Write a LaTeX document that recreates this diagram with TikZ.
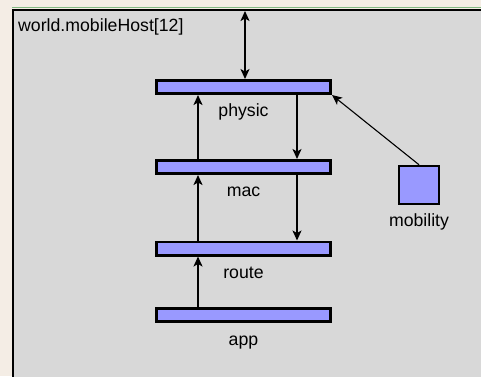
\documentclass[tikz,border=0pt]{standalone}
\usepackage{fontspec}
\setmainfont{Liberation Sans}
\usetikzlibrary{arrows.meta,positioning}

\definecolor{panelgray}{RGB}{216,216,216}
\definecolor{modblue}{RGB}{153,153,255}
\definecolor{paper}{RGB}{244,237,229}
\definecolor{rimgreen}{RGB}{130,185,130}

\begin{document}
\begin{tikzpicture}[x=1pt, y=-1pt, >={Stealth[length=10pt,width=9pt,inset=2.5pt]}]
        \tikzset{
            layer/.style={rectangle,draw,line width=2.7pt,fill=modblue,
                minimum width=174.3pt, minimum height=13.3pt, inner sep=0pt},
            module/.style={rectangle,draw,line width=2.7pt,fill=modblue,
                minimum width=39.8pt, minimum height=37.8pt, inner sep=0pt},
            txt/.style={inner sep=0pt, font=\fontsize{17.7}{20}\selectfont},
            gate/.style={->, line width=1.4pt}
        }

        \useasboundingbox (0,0) rectangle (481,376);
        \clip (0,0) rectangle (481,376);
        \fill[paper] (0,0) rectangle (481,376);
        \draw[rimgreen, line width=1.2pt] (12,7.5) -- (481,7.5);
        \draw[line width=2.7pt, fill=panelgray] (13,10) rectangle (500,400);

        \node[txt, anchor=base west] (title) at (18,31) {world.mobileHost[12]};

        % protocol stack
        \node[layer] (physic) at (243.5,87) {};
        \node[layer] (mac)    at (243.5,167) {};
        \node[layer] (route)  at (243.5,248.5) {};
        \node[layer] (app)    at (243.5,315) {};
        \node[module] (mobility) at (419,185) {};

        \node[txt, below=21.5pt of physic.south, anchor=base] (physiclbl) {physic};
        \node[txt, below=21.5pt of mac.south, anchor=base] (maclbl) {mac};
        \node[txt, below=21.5pt of route.south, anchor=base] (routelbl) {route};
        \node[txt, below=22pt of app.south, anchor=base] (applbl) {app};
        \node[txt, below=21pt of mobility.south, anchor=base] (mobilitylbl) {mobility};

        \coordinate (up)   at (198,0);
        \coordinate (down) at (297,0);
        \coordinate (gate) at (245,11);

        \draw[gate,<->] (gate) -- (gate |- physic.north);
        \draw[gate] (mac.north -| up) -- (physic.south -| up);
        \draw[gate] (route.north -| up) -- (mac.south -| up);
        \draw[gate] (app.north -| up) -- (route.south -| up);
        \draw[gate] (physic.south -| down) -- (mac.north -| down);
        \draw[gate] (mac.south -| down) -- (route.north -| down);
        \draw[->, line width=1.1pt] (mobility.north) -- (physic.south east);
\end{tikzpicture}
\end{document}
